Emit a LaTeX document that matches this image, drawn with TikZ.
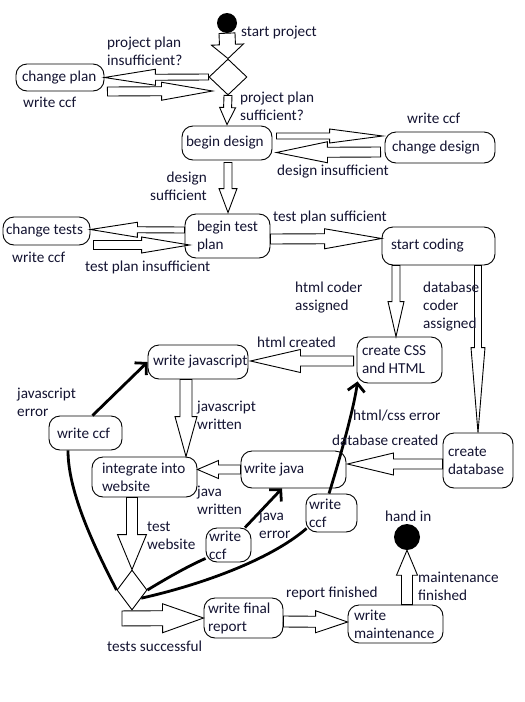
\documentclass[tikz,border=0pt]{standalone}
\usepackage{fontspec}
\setmainfont{Carlito}
\usetikzlibrary{calc,shapes.geometric,arrows.meta}
\definecolor{txt}{RGB}{20,20,50}
\newcommand\blockarrow[5]{%
  \coordinate (baA) at (#1);
  \coordinate (baB) at (#2);
  \coordinate (bah) at ($(baB)!#5pt!(baA)$);
  \draw[blockline] ($(baA)!#3pt!90:(baB)$) -- ($(bah)!#3pt!90:(baB)$) -- ($(bah)!#4pt!90:(baB)$) -- (baB)
     -- ($(bah)!#4pt!-90:(baB)$) -- ($(bah)!#3pt!-90:(baB)$) -- ($(baA)!#3pt!-90:(baB)$) -- cycle;}
\newcommand\tline[1]{{\spaceskip=0pt\relax\xspaceskip=0pt\relax\mbox{#1}}}
\tikzset{
  every node/.style={font=\fontsize{15.2}{18}\selectfont, text=txt},
  box/.style={draw, line width=0.9pt, rounded corners=11pt, align=left, inner ysep=0pt},
  lbl/.style={inner sep=0pt, anchor=west, align=left},
  dia/.style={draw, diamond, line width=0.9pt, inner sep=0pt},
  dot/.style={circle, fill=black, inner sep=0pt},
  blockline/.style={line width=0.9pt, line join=miter},
  thickarr/.style={line width=2.8pt, -{Straight Barb[length=8pt,width=17pt]}},
  thickln/.style={line width=2.8pt},
}
\begin{document}
\begin{tikzpicture}[x=1pt,y=-1pt]
\fill[white] (0,0) rectangle (525,702);
\useasboundingbox (0,0) rectangle (525,702);

% start / end
\node[dot, minimum size=20pt] (start) at (227,23) {};
\node[dot, minimum size=26pt] (handin) at (407,537) {};

% diamonds
\node[dia, minimum width=38pt, minimum height=36pt] (dia1) at (228,77) {};
\node[dia, minimum width=30pt, minimum height=40pt] (dia2) at (132,590) {};

% boxes
\node[box, minimum height=27pt, text width=76pt, inner xsep=6pt] (changeplan) at (60,77.5) {\tline{change plan}};
\node[box, minimum height=34pt, text width=82pt, inner xsep=4pt] (begindesign) at (227,143) {\tline{begin design}};
\node[box, minimum height=31pt, text width=96pt, inner xsep=7pt] (changedesign) at (440,147.5) {\tline{change design}};
\node[box, minimum height=28pt, text width=81pt, inner xsep=3pt] (changetests) at (46.5,231) {\tline{change tests}};
\node[box, minimum height=44pt, text width=61pt, inner xsep=12pt] (begintest) at (227.5,236) {\tline{begin test}\\\tline{plan}};
\node[box, minimum height=38pt, text width=95pt, inner xsep=9pt] (startcoding) at (438.5,246) {\tline{start coding}};
\node[box, minimum height=34pt, text width=90pt, inner xsep=5pt] (writejs) at (198,362) {\tline{write javascript}};
\node[box, minimum height=46pt, text width=75pt, inner xsep=5pt] (createcss) at (399.5,360) {\tline{create CSS}\\\tline{and HTML}};
\node[box, minimum height=34pt, text width=57pt, inner xsep=8pt] (ccfL) at (85.5,433) {\tline{write ccf}};
\node[box, minimum height=40pt, text width=85pt, inner xsep=10pt] (integrate) at (144.5,477) {\tline{integrate into}\\\tline{website}};
\node[box, minimum height=37pt, text width=99pt, inner xsep=3pt] (writejava) at (293.5,469.5) {\tline{write java}};
\node[box, minimum height=55pt, text width=60pt, inner xsep=5pt] (createdb) at (478,460.5) {\tline{create}\\\tline{database}};
\node[box, minimum height=34pt, text width=39pt, inner xsep=3pt] (ccfM) at (228.5,545) {\tline{write}\\\tline{ccf}};
\node[box, minimum height=38pt, text width=45pt, inner xsep=3pt] (ccfR) at (331.5,513) {\tline{write}\\\tline{ccf}};
\node[box, minimum height=40pt, text width=71pt, inner xsep=4pt] (finalreport) at (243.5,618) {\tline{write final}\\\tline{report}};
\node[box, minimum height=38pt, text width=83pt, inner xsep=6pt] (maintenance) at (395.5,624) {\tline{write}\\\tline{maintenance}};

% block arrows
\blockarrow{start.south}{dia1.north}{8}{16}{14}
\blockarrow{dia1.west}{changeplan.east}{3}{8}{51}
\blockarrow{$(changeplan.east)+(3,14)$}{$(dia1.west)+(4,14)$}{4.5}{9}{51}
\blockarrow{dia1.south}{$(begindesign.north)+(0,-1)$}{4}{8}{17}
\blockarrow{$(begindesign.east)+(4,-7)$}{$(changedesign.west)+(-2,-11.5)$}{3}{7}{53}
\blockarrow{$(changedesign.west)+(-4,4.5)$}{$(begindesign.east)+(4,9.5)$}{5}{10.5}{51}
\blockarrow{$(begindesign.south)+(1,2)$}{$(begintest.north)+(0.5,-1)$}{4}{9}{24}
\blockarrow{$(begintest.west)+(0,-6)$}{$(changetests.east)+(0,-1.5)$}{3}{7.5}{47}
\blockarrow{$(changetests.east)+(3,14)$}{$(begintest.west)+(5,9)$}{4.5}{8}{48}
\blockarrow{$(begintest.east)+(0,3)$}{$(startcoding.west)+(0,-7.5)$}{5}{10}{57}
\blockarrow{$(startcoding.south)+(-42.5,0)$}{$(createcss.north)+(-3.5,0)$}{4}{8}{35}
\blockarrow{$(startcoding.south)+(39.5,0)$}{createdb.north}{3.5}{7}{85}
\blockarrow{$(createcss.west)+(-3,1)$}{$(writejs.east)+(2,-1)$}{5}{11.5}{50}
\blockarrow{$(writejs.south)+(-12,0)$}{$(integrate.north)+(41.5,0)$}{6}{11}{40}
\blockarrow{$(writejava.west)+(0,0)$}{$(integrate.east)+(0,-7.5)$}{4.5}{9}{21}
\blockarrow{$(createdb.west)+(0,3.5)$}{$(writejava.east)+(1,-5.5)$}{5}{11}{46}
\blockarrow{$(integrate.south)+(-12.5,0)$}{dia2.north}{5.5}{14.5}{35}
\blockarrow{$(dia2.south)+(-10,8)$}{finalreport.west}{7.5}{14.5}{41}
\blockarrow{$(finalreport.east)+(0,3.5)$}{$(maintenance.west)+(0,-2)$}{5.5}{11}{32}
\blockarrow{$(maintenance.north)+(11.5,0)$}{handin.south}{5.5}{10.5}{25}

% thick error arrows
\draw[thickarr] ($(ccfL.north)+(7,0)$) -- (writejs.west);
\draw[thickarr] ($(ccfM.north)+(16.5,0)$) -- ($(writejava.south)+(-11.5,0)$);
\draw[thickarr] ($(ccfR.north)+(-2.5,0)$) .. controls +(9,-29) and +(-4,29) .. ($(createcss.south west)+(1,-2)$);
\draw[thickln] (dia2.west) .. controls +(-27,-52) and +(0,38) .. ($(ccfL.south)+(-17.5,0)$);
\draw[thickln] (dia2.east) .. controls +(23,-14) and +(-16,7) .. ($(ccfM.south west)+(0,-4)$);
\draw[thickln] ($(dia2.east)!0.4!(dia2.south)$) .. controls +(58,-13) and +(-37,32) .. ($(ccfR.south west)+(1,-4)$);

% labels
\node[lbl] (l1) at (241,33) {start project};
\node[lbl] (l2) at (107,51) {project plan\\insufficient?};
\node[lbl] (l3) at (23,102) {write ccf};
\node[lbl] (l4) at (240,106) {project plan\\sufficient?};
\node[lbl] (l5) at (407,118) {write ccf};
\node[lbl] (l6) at (277,172) {design insufficient};
\node[lbl, anchor=east, align=right] (l7) at (207,186.5) {design\\sufficient};
\node[lbl] (l8) at (12,257) {write ccf};
\node[lbl] (l9) at (85,267) {test plan insufficient};
\node[lbl] (l10) at (273,217) {test plan sufficient};
\node[lbl] (l11) at (295,298) {html coder\\assigned};
\node[lbl] (l12) at (423,307) {database\\coder\\assigned};
\node[lbl] (l13) at (257,342) {html created};
\node[lbl] (l14) at (17,402) {javascript\\error};
\node[lbl] (l15) at (197,415.5) {javascript\\written};
\node[lbl] (l16) at (353,416) {html/css error};
\node[lbl] (l17) at (332,440) {database created};
\node[lbl] (l18) at (197,500.5) {java\\written};
\node[lbl] (l19) at (259,524) {java\\error};
\node[lbl] (l20) at (147,535.5) {test\\website};
\node[lbl] (l21) at (385,516) {hand in};
\node[lbl] (l22) at (418,586.5) {maintenance\\finished};
\node[lbl] (l23) at (286,593) {report finished};
\node[lbl] (l24) at (107,646) {tests successful};
\end{tikzpicture}
\end{document}
